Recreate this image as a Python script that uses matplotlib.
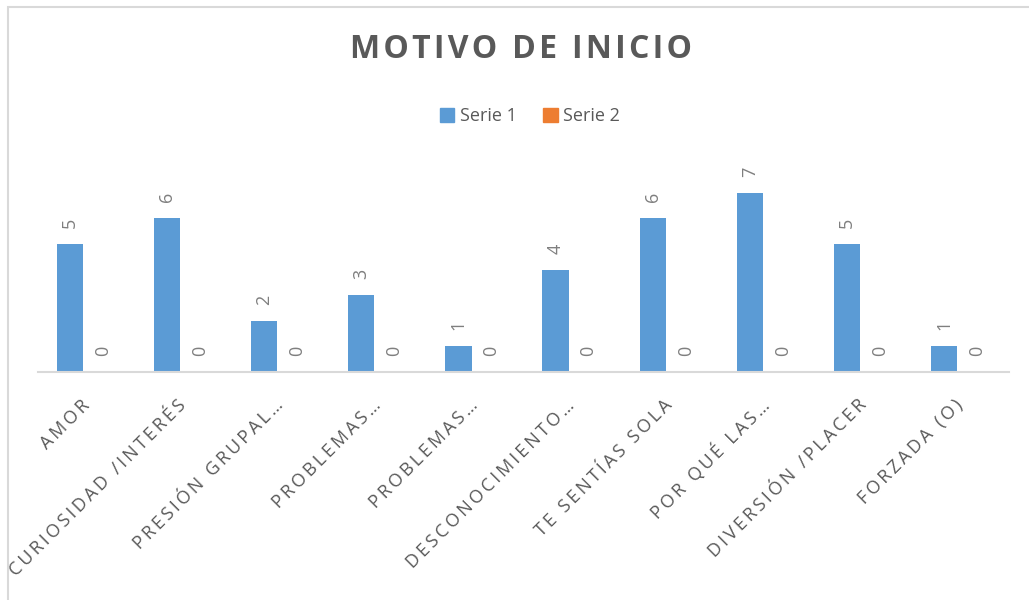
import numpy as np
import matplotlib
matplotlib.use("Agg")
import matplotlib.pyplot as plt
from matplotlib.patches import Rectangle, Patch

plt.rcParams['font.family'] = ['Open Sans', 'DejaVu Sans']

categories = ["AMOR", "CURIOSIDAD /INTERÉS", "PRESIÓN GRUPAL…", "PROBLEMAS…",
              "PROBLEMAS…", "DESCONOCIMIENTO…", "TE SENTÍAS SOLA", "POR QUÉ LAS…",
              "DIVERSIÓN /PLACER", "FORZADA (O)"]
serie1 = [5, 6, 2, 3, 1, 4, 6, 7, 5, 1]
serie2 = [0, 0, 0, 0, 0, 0, 0, 0, 0, 0]
title = "MOTIVO DE INICIO"

BLUE = "#5B9BD5"
ORANGE = "#ED7D31"
TEXT = "#595959"
LABEL = "#7F7F7F"
GRID = "#D9D9D9"


def spaced(s, gap="\u2009"):
    # imitate Excel's character spacing
    return gap.join(s)


fig = plt.figure(figsize=(10.29, 6.0), dpi=100)
ax = fig.add_axes([38 / 1029, 1 - 372 / 600, (1009 - 38) / 1029, (372 - 167) / 600])

x = np.arange(len(categories))
w = 0.27
off = 0.17
b1 = ax.bar(x - off, serie1, w, color=BLUE, label="Serie 1")
b2 = ax.bar(x + off, serie2, w, color=ORANGE, label="Serie 2")

for bars in (b1, b2):
    for r in bars:
        ax.annotate(str(int(r.get_height())), (r.get_x() + r.get_width() / 2, r.get_height()),
                    xytext=(0, 21), textcoords="offset pixels",
                    rotation=90, ha="center", va="center", fontsize=13, color=LABEL)

ax.set_xlim(-0.5, len(categories) - 0.5)
ax.set_ylim(0, 8)
ax.set_yticks([])
ax.set_xticks(x)
ax.set_xticklabels([spaced(c) for c in categories], rotation=45, ha="right", va="center",
                   rotation_mode="anchor", fontsize=13, color=TEXT)
ax.tick_params(axis="x", length=0, pad=22)
for s in ("top", "right", "left"):
    ax.spines[s].set_visible(False)
ax.spines["bottom"].set_color(GRID)
ax.spines["bottom"].set_linewidth(1.5)

fig.text(0.506, 1 - 50 / 600, spaced(title, "\u200a"),
         ha="center", va="center", fontsize=23, fontweight="bold", color=TEXT)

handles = [Patch(color=BLUE), Patch(color=ORANGE)]
fig.legend(handles, ["Serie 1", "Serie 2"], loc="center", bbox_to_anchor=(0.515, 1 - 116 / 600),
           ncol=2, frameon=False, fontsize=13, labelcolor=TEXT, handlelength=0.8,
           handleheight=0.8, handletextpad=0.3, columnspacing=1.5)

fig.patches.append(Rectangle((8 / 1029, -0.1), 1.2, 1 - 7 / 600 + 0.1, transform=fig.transFigure,
                             fill=False, edgecolor=GRID, linewidth=1.5))

fig.savefig("out.png", dpi=100)
